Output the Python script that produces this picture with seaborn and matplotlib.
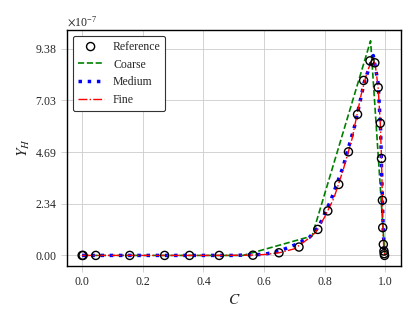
import numpy as np
import pandas as pd
import matplotlib
matplotlib.use('Agg')
import matplotlib.pyplot as plt
import seaborn as sns
from matplotlib.ticker import ScalarFormatter

# Values of Y_H are in units of 1e-7
ref_c = [0.0, 0.003, 0.045, 0.157, 0.272, 0.354, 0.452, 0.563, 0.649, 0.715,
         0.777, 0.810, 0.846, 0.878, 0.908, 0.928, 0.949, 0.965, 0.976, 0.983,
         0.987, 0.990, 0.991, 0.993, 0.995, 0.996, 0.997]
ref_y = [0.0, 0.0, 0.0, 0.0, 0.0, 0.0, 0.0, 0.01, 0.12, 0.38,
         1.18, 2.02, 3.22, 4.70, 6.40, 7.94, 8.83, 8.74, 7.62, 6.00,
         4.40, 2.50, 1.26, 0.50, 0.20, 0.08, 0.0]

coarse_c = [0.0, 0.27, 0.53, 0.758, 0.951, 0.998]
coarse_y = [0.0, 0.0, 0.0, 0.88, 9.74, 0.0]

medium_c = [0.0, 0.1, 0.2, 0.3, 0.4, 0.5, 0.6, 0.651, 0.711, 0.75, 0.78, 0.82,
            0.86, 0.90, 0.93, 0.96, 0.976, 0.984, 0.989, 0.993, 0.997, 1.0]
medium_y = [0.0, 0.0, 0.0, 0.0, 0.0, 0.0, 0.05, 0.2, 0.53, 0.83, 1.3, 2.5,
            4.0, 5.95, 7.85, 9.07, 7.8, 5.7, 3.0, 1.0, 0.15, 0.0]

fine_c = [0.0, 0.05, 0.15, 0.25, 0.35, 0.45, 0.55, 0.6, 0.65, 0.7, 0.74, 0.77,
          0.8, 0.83, 0.86, 0.89, 0.92, 0.94, 0.958, 0.966, 0.976, 0.983, 0.987,
          0.990, 0.992, 0.994, 0.997, 1.0]
fine_y = [0.0, 0.0, 0.0, 0.0, 0.0, 0.0, 0.01, 0.04, 0.12, 0.3, 0.7, 1.05,
          1.75, 2.6, 3.85, 5.3, 7.3, 8.35, 8.92, 8.7, 7.6, 6.0, 4.4,
          2.5, 1.2, 0.45, 0.1, 0.0]

y_ticks = [0.0, 2.34375, 4.6875, 7.03125, 9.375]

sns.set_theme(style='whitegrid', rc={
    'axes.edgecolor': 'black',
    'axes.linewidth': 1.0,
    'grid.color': '#cccccc',
    'grid.linewidth': 0.6,
})
plt.rcParams['font.family'] = ['Liberation Serif', 'DejaVu Serif']
plt.rcParams['mathtext.fontset'] = 'stix'


class TwoDec(ScalarFormatter):
    def _set_format(self):
        self.format = r'$\mathdefault{%1.2f}$'


scale = 1e-7
fig = plt.figure(figsize=(4.16, 3.23), dpi=100)
ax = fig.add_axes([0.161, 0.176, 0.802, 0.731])

sns.scatterplot(x=np.array(ref_c), y=np.array(ref_y) * scale, marker='o', s=34,
                facecolor='none', edgecolor='black', linewidth=1.0,
                label='Reference', ax=ax, zorder=3)
sns.lineplot(x=coarse_c, y=np.array(coarse_y) * scale, sort=False, estimator=None,
             color='green', linestyle='--', linewidth=1.2, label='Coarse', ax=ax)
sns.lineplot(x=medium_c, y=np.array(medium_y) * scale, sort=False, estimator=None,
             color='blue', linestyle=':', linewidth=2.5, label='Medium', ax=ax)
sns.lineplot(x=fine_c, y=np.array(fine_y) * scale, sort=False, estimator=None,
             color='red', linestyle='-.', linewidth=1.0, label='Fine', ax=ax)

ax.set_yticks(np.array(y_ticks) * scale)
fmt = TwoDec(useMathText=True)
fmt.set_powerlimits((0, 0))
ax.yaxis.set_major_formatter(fmt)
ax.yaxis.get_offset_text().set_fontsize(8.5)
ax.set_xticks([0.0, 0.2, 0.4, 0.6, 0.8, 1.0])

ax.tick_params(labelsize=8.5, length=4, color='#cccccc', width=0.6,
               bottom=True, left=True, pad=3)
ax.set_xlabel('$C$', fontsize=11)
ax.set_ylabel('$Y_H$', fontsize=11, labelpad=2)

leg = ax.legend(loc='upper left', fontsize=8.5, handlelength=2.2,
                frameon=True, fancybox=True, framealpha=1.0)
leg.get_frame().set_edgecolor('#333333')
leg.get_frame().set_linewidth(0.8)

fig.savefig('out.png', dpi=100)
